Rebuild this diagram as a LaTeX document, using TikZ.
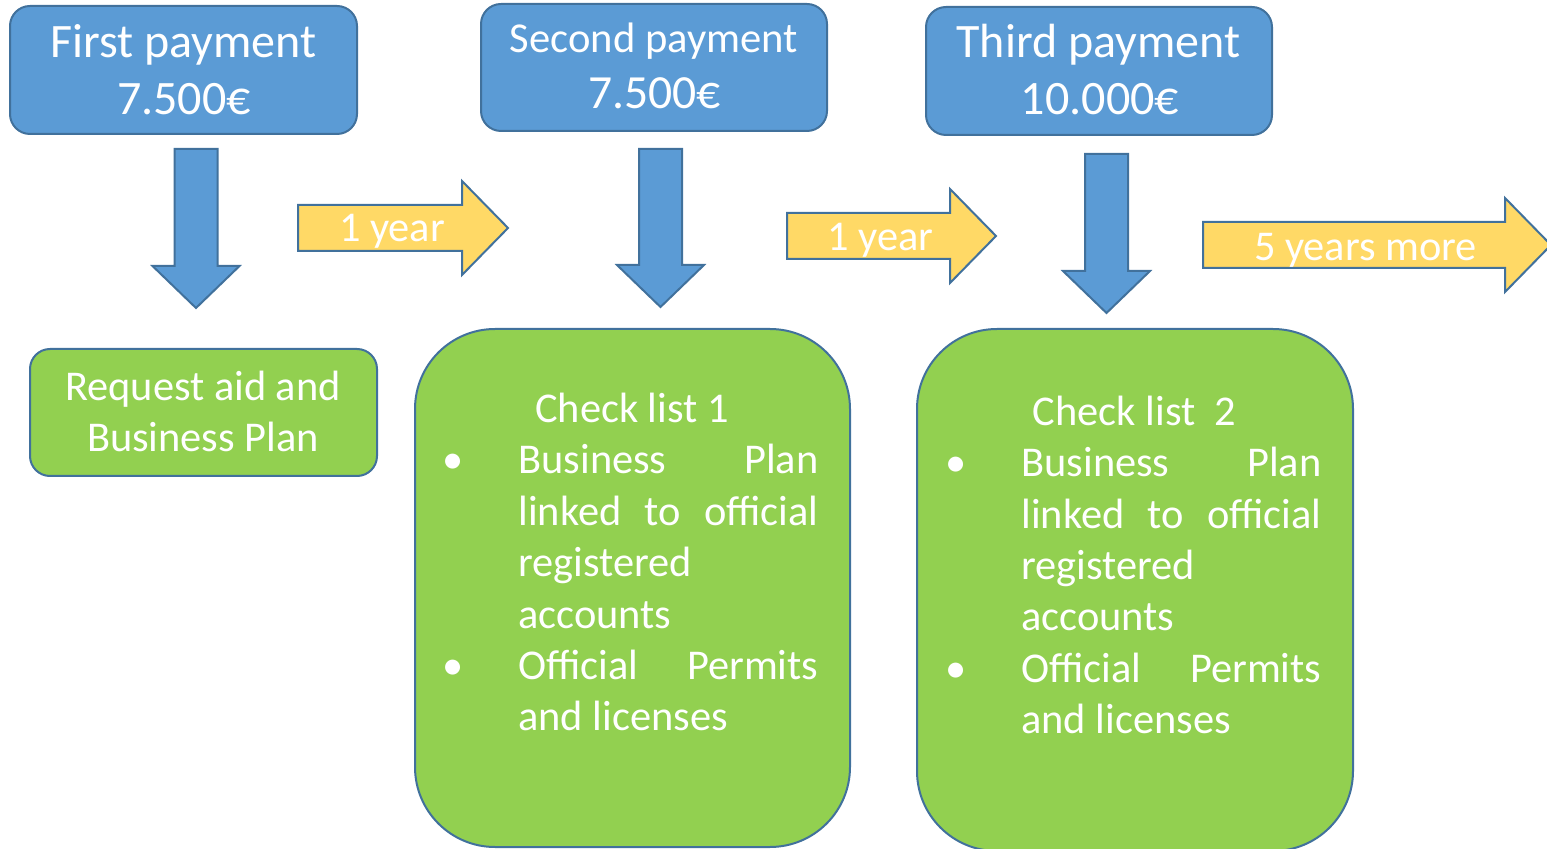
\documentclass[tikz,border=0pt]{standalone}
\usepackage{fontspec}
\setmainfont{Carlito}
\definecolor{payblue}{HTML}{5B9BD5}
\definecolor{edgeblue}{HTML}{41719C}
\definecolor{checkgreen}{HTML}{92D050}
\definecolor{yeargold}{HTML}{FFD966}
\tikzset{
  paybox/.style={draw=edgeblue, fill=payblue, line width=1pt, rounded corners=10pt, inner sep=0pt},
  checkbox/.style={draw=edgeblue, fill=checkgreen, line width=1pt, inner sep=0pt},
  downarrow/.style={draw=edgeblue, fill=payblue, line width=1pt},
  yeararrow/.style={draw=edgeblue, fill=yeargold, line width=1pt},
  bigtxt/.style={text=white, inner sep=0pt, anchor=base, font=\fontsize{24}{28}\selectfont},
  txt/.style={text=white, inner sep=0pt, anchor=base, font=\fontsize{21.2}{25}\selectfont},
}
\begin{document}
\begin{tikzpicture}[x=0.5pt, y=-0.5pt]
  \useasboundingbox (0,0) rectangle (1547,849);
  \clip (0,0) rectangle (1547,849);

  % payments
  \node[paybox, minimum width=173.5pt, minimum height=64pt] (pay1) at (183.5,70) {};
  \node[paybox, minimum width=173pt, minimum height=63.5pt] (pay2) at (654,67.5) {};
  \node[paybox, minimum width=173pt, minimum height=64pt] (pay3) at (1099,71) {};
  \node[bigtxt] (pay1a) at (183.5,58) {First payment};
  \node[bigtxt] (pay1b) at (184,115) {7.500€};
  \node[bigtxt, font=\fontsize{21.3}{25}\selectfont] (pay2a) at (654,53) {Second payment};
  \node[bigtxt, font=\fontsize{23.8}{28}\selectfont] (pay2b) at (654.5,109) {7.500€};
  \node[bigtxt] (pay3a) at (1098.5,58) {Third payment};
  \node[bigtxt] (pay3b) at (1100,115) {10.000€};

  % down arrows
  \foreach \x/\top/\tip in {196/149/308, 660.5/149/307, 1106.5/154/313} {
   \draw[downarrow] (\x-21.5,\top) -- (\x+21.5,\top) -- (\x+21.5,\tip-42) -- (\x+43.5,\tip-42)
     -- (\x,\tip) -- (\x-43.5,\tip-42) -- (\x-21.5,\tip-42) -- cycle;
  }

  % time arrows
  \foreach \left/\tip/\y in {298/508/228, 787/996/236, 1203/1551/245} {
   \draw[yeararrow] (\left,\y-23) -- (\tip-46,\y-23) -- (\tip-46,\y-47) -- (\tip,\y)
     -- (\tip-46,\y+47) -- (\tip-46,\y+23) -- (\left,\y+23) -- cycle;
  }
  \node[txt] (year1) at (392,242) {1 year};
  \node[txt] (year2) at (880.5,251) {1 year};
  \node[txt] (year3) at (1365.5,261) {5 years more};

  % checks
  \node[checkbox, rounded corners=10pt, minimum width=173.5pt, minimum height=63.5pt] (req) at (203.5,412.5) {};
  \node[txt] (reqa) at (203,401) {Request aid and};
  \node[txt] (reqb) at (203,452) {Business Plan};

  \node[checkbox, rounded corners=40pt, minimum width=217.5pt, minimum height=259pt] (check1) at (632.5,588) {};
  \node[checkbox, rounded corners=40pt, minimum width=218pt, minimum height=261pt] (check2) at (1135,590) {};
  \node[txt] (check1t) at (632,423) {Check list 1};
  \node[txt] (check2t) at (1134.5,426) {Check list\ \ 2};

  \foreach \n/\bx/\lx/\y in {1/453/518/474, 2/956/1021/477} {
   \node[txt] (bul\n a) at (\bx,\y) {•};
   \node[txt] (bul\n b) at (\bx,\y+205.5) {•};
   \node[txt, anchor=base west] (item\n a) at (\lx,\y) {\makebox[150pt][s]{Business Plan}};
   \node[txt, anchor=base west] (item\n b) at (\lx,\y+51.3) {\makebox[150pt][s]{linked to official}};
   \node[txt, anchor=base west] (item\n c) at (\lx,\y+102.7) {registered};
   \node[txt, anchor=base west] (item\n d) at (\lx,\y+154) {accounts};
   \node[txt, anchor=base west] (item\n e) at (\lx,\y+205.5) {\makebox[150pt][s]{Official Permits}};
   \node[txt, anchor=base west] (item\n f) at (\lx,\y+256.8) {and licenses};
  }
\end{tikzpicture}
\end{document}
